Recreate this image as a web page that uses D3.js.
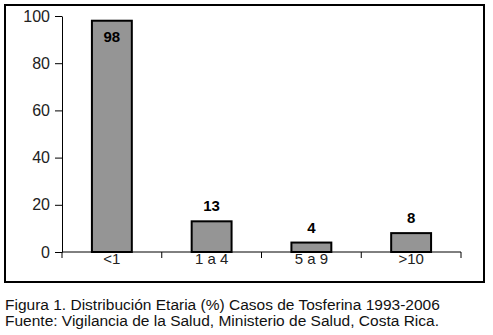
<!DOCTYPE html>
<html>
<head>
<meta charset="utf-8">
<script src="https://cdn.jsdelivr.net/npm/d3@7"></script>
<style>
  body { margin: 0; background: #fff; }
  text { font-family: Arial, "Liberation Sans", sans-serif; }
</style>
</head>
<body>
<svg id="chart" width="493" height="335"></svg>
<script>
// data
var ages = ['<1', '1 a 4', '5 a 9', '>10'];
var percents = [98, 13, 4, 8];
var yTicks = [0, 20, 40, 60, 80, 100];
var caption = [
  'Figura 1. Distribución Etaria (%) Casos de Tosferina 1993-2006',
  'Fuente: Vigilancia de la Salud, Ministerio de Salud, Costa Rica.'
];

function draw()
{
  var svg = d3.select('#chart');

  // outer frame
  svg.append('rect')
     .attr('x', 5).attr('y', 5)
     .attr('width', 479).attr('height', 277)
     .attr('fill', 'none')
     .attr('stroke', 'black')
     .attr('stroke-width', 2);

  var plot = {left: 62, right: 461, top: 16, bottom: 252};

  var x = d3.scaleBand().domain(ages).range([plot.left, plot.right]).paddingInner(0.6).paddingOuter(0.3);
  var xTicks = d3.scaleBand().domain(ages).range([plot.left, plot.right]);
  var y = d3.scaleLinear().domain([0, 100]).range([plot.bottom, plot.top]);

  // y axis
  var yAxis = svg.append('g')
     .attr('transform', 'translate(' + plot.left + ',0)')
     .call(d3.axisLeft(y).tickValues(yTicks).tickSize(7).tickSizeOuter(0));
  yAxis.select('.domain').attr('stroke', 'black');
  yAxis.selectAll('line').attr('stroke', 'black');
  yAxis.selectAll('text')
       .attr('font-size', 16)
       .attr('fill', '#222')
       .attr('x', -12)
       .attr('font-family', 'Arial, "Liberation Sans", sans-serif');

  // bars
  svg.selectAll('.bar')
     .data(percents)
     .enter()
     .append('rect')
     .attr('class', 'bar')
     .attr('x', (d, i) => x(ages[i]))
     .attr('y', d => y(d))
     .attr('width', x.bandwidth())
     .attr('height', d => y(0) - y(d))
     .attr('fill', '#959595')
     .attr('stroke', 'black')
     .attr('stroke-width', 2);

  // x axis, drawn after the bars so the line sits on top
  var xAxisG = svg.append('g').attr('transform', 'translate(0,' + plot.bottom + ')');
  xAxisG.append('line')
        .attr('x1', plot.left).attr('x2', plot.right)
        .attr('stroke', 'black');
  xAxisG.selectAll('.xtick')
        .data(ages.map(a => xTicks(a)).concat([plot.right]))
        .enter()
        .append('line')
        .attr('x1', d => d).attr('x2', d => d)
        .attr('y1', 0).attr('y2', 6)
        .attr('stroke', 'black');
  xAxisG.selectAll('.xlabel')
        .data(ages)
        .enter()
        .append('text')
        .attr('x', d => xTicks(d) + xTicks.bandwidth() / 2)
        .attr('y', 12)
        .attr('text-anchor', 'middle')
        .attr('font-size', 15)
        .attr('fill', '#222')
        .text(d => d);

  // value labels, pushed inside the bar when there is no room above
  svg.selectAll('.val')
     .data(percents)
     .enter()
     .append('text')
     .attr('x', (d, i) => x(ages[i]) + x.bandwidth() / 2)
     .attr('y', d => (y(d) - 22 < plot.top) ? y(d) + 21 : y(d) - 10)
     .attr('text-anchor', 'middle')
     .attr('font-size', 15)
     .attr('font-weight', 'bold')
     .attr('fill', 'black')
     .text(d => d);

  // caption
  svg.selectAll('.cap')
     .data(caption)
     .enter()
     .append('text')
     .attr('x', 5)
     .attr('y', (d, i) => 310 + i * 16)
     .attr('font-size', 15.5)
     .attr('fill', '#111')
     .text(d => d);
}

draw();
</script>
</body>
</html>
